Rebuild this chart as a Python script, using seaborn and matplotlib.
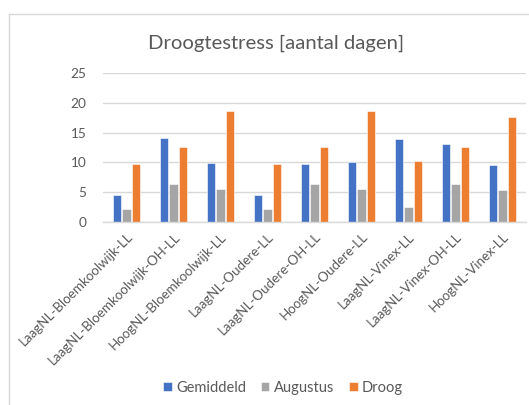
import pandas as pd
import matplotlib
matplotlib.use("Agg")
import matplotlib.pyplot as plt
from matplotlib.lines import Line2D
import seaborn as sns

categories = [
    "LaagNL-Bloemkoolwijk-LL", "LaagNL-Bloemkoolwijk-OH-LL", "HoogNL-Bloemkoolwijk-LL",
    "LaagNL-Oudere-LL", "LaagNL-Oudere-OH-LL", "HoogNL-Oudere-LL",
    "LaagNL-Vinex-LL", "LaagNL-Vinex-OH-LL", "HoogNL-Vinex-LL",
]
gemiddeld = [4.6, 14.1, 9.9, 4.6, 9.7, 10.0, 14.0, 13.1, 9.5]
augustus = [2.2, 6.3, 5.5, 2.2, 6.3, 5.6, 2.5, 6.3, 5.4]
droog = [9.7, 12.6, 18.7, 9.7, 12.6, 18.7, 10.2, 12.6, 17.7]
series = ["Gemiddeld", "Augustus", "Droog"]
colors = ["#4472C4", "#A5A5A5", "#ED7D31"]

rows = []
for name, vals in zip(series, [gemiddeld, augustus, droog]):
    for cat, v in zip(categories, vals):
        rows.append({"scenario": cat, "reeks": name, "dagen": v})
df = pd.DataFrame(rows)

sns.set_style("white")
plt.rcParams["font.family"] = ["Lato", "DejaVu Sans"]
text_col = "#595959"
grid_col = "#D9D9D9"

fig = plt.figure(figsize=(5.29, 4.05), dpi=100)
ax = fig.add_axes([103 / 529, 1 - 222 / 405, 423 / 529, 149 / 405])

sns.barplot(data=df, x="scenario", y="dagen", hue="reeks", hue_order=series,
            palette=colors, width=0.62, gap=0.16, edgecolor="white", linewidth=0.4,
            errorbar=None, ax=ax, saturation=1)

ax.set_ylim(0, 25)
ax.set_yticks(range(0, 26, 5))
ax.set_xlim(-0.5, len(categories) - 0.5)
ax.yaxis.grid(True, color=grid_col, linewidth=1)
ax.set_axisbelow(True)
for s in ["top", "right", "left"]:
    ax.spines[s].set_visible(False)
ax.spines["bottom"].set_color(grid_col)
ax.spines["bottom"].set_linewidth(1)
ax.set_xlabel("")
ax.set_ylabel("")
ax.tick_params(axis="y", length=0, pad=12, labelsize=9.8, labelcolor=text_col)
ax.tick_params(axis="x", length=0, pad=6, labelsize=9.6, labelcolor=text_col)
plt.setp(ax.get_xticklabels(), rotation=45, ha="right", rotation_mode="anchor")

ax.legend(loc="center", bbox_to_anchor=(283 / 529, 1 - 388 / 405),
          bbox_transform=fig.transFigure, ncol=3, frameon=False, fontsize=10.5,
          handlelength=0.6, handleheight=0.6, handletextpad=0.3, columnspacing=1.0,
          labelcolor=text_col)

fig.text(276 / 529, 1 - 43 / 405, "Droogtestress [aantal dagen]", ha="center", va="center",
         fontsize=14.6, color=text_col)

# chart-area border (top and left edge only visible in the crop)
fig.add_artist(Line2D([9 / 529, 1], [1 - 14 / 405, 1 - 14 / 405], transform=fig.transFigure,
                      color=grid_col, linewidth=1))
fig.add_artist(Line2D([9 / 529, 9 / 529], [0, 1 - 14 / 405], transform=fig.transFigure,
                      color=grid_col, linewidth=1))

fig.savefig("out.png", dpi=100)
plt.close(fig)
